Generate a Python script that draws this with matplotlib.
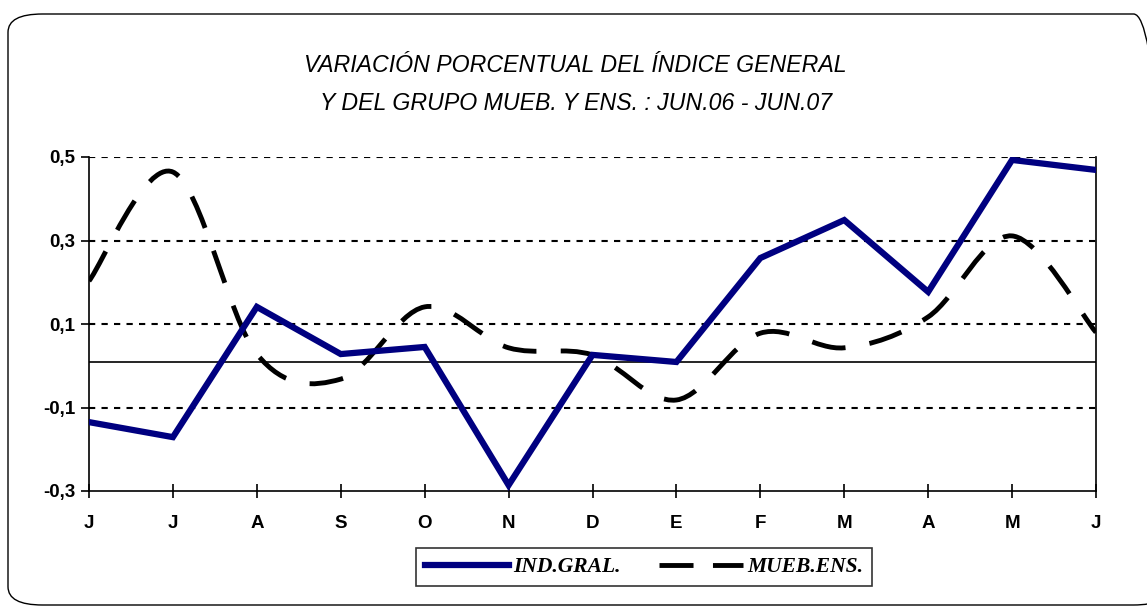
import numpy as np
import matplotlib.pyplot as plt
from matplotlib.path import Path
from matplotlib.patches import PathPatch, FancyBboxPatch
from matplotlib.lines import Line2D

meses = ['J', 'J', 'A', 'S', 'O', 'N', 'D', 'E', 'F', 'M', 'A', 'M', 'J']
ind_gral = [-0.135, -0.171, 0.141, 0.028, 0.045, -0.286, 0.026, 0.009,
            0.258, 0.349, 0.177, 0.493, 0.469]
mueb_ens = [0.203, 0.464, 0.028, -0.032, 0.141, 0.043, 0.026, -0.082,
            0.078, 0.043, 0.117, 0.311, 0.080]
y_ticks = [-0.3, -0.1, 0.1, 0.3, 0.5]


def smooth_path(xs, ys):
    # curva suavizada tipo Excel (Catmull-Rom -> Bezier cubica)
    pts = np.column_stack([xs, ys]).astype(float)
    n = len(pts)
    verts = [pts[0]]
    codes = [Path.MOVETO]
    for i in range(n - 1):
        p0 = pts[max(i - 1, 0)]
        p1 = pts[i]
        p2 = pts[i + 1]
        p3 = pts[min(i + 2, n - 1)]
        c1 = p1 + (p2 - p0) / 6.0
        c2 = p2 - (p3 - p1) / 6.0
        verts += [c1, c2, p2]
        codes += [Path.CURVE4] * 3
    return Path(verts, codes)


fig = plt.figure(figsize=(11.47, 6.09), dpi=100)
fig.patches.append(FancyBboxPatch((8 / 1147, 4 / 609), 1160 / 1147, 591 / 609,
                                  boxstyle='round,pad=0,rounding_size=0.03',
                                  transform=fig.transFigure, fill=False,
                                  edgecolor='black', linewidth=1.0))

ax = fig.add_axes([89 / 1147, 118 / 609, 1007 / 1147, 334 / 609])
x = np.arange(len(meses))

ax.set_xlim(0, len(meses) - 1)
ax.set_ylim(-0.3, 0.5)

for yv in y_ticks[1:]:
    ax.axhline(yv, color='black', lw=1.5, linestyle=(0, (3, 3)), zorder=1)
ax.axhline(0.01, color='black', lw=1.2, zorder=1)

ax.plot(x, ind_gral, color='#000080', lw=4.5, solid_joinstyle='miter',
        zorder=3, label='IND.GRAL.')
patch = PathPatch(smooth_path(x, mueb_ens), fill=False, edgecolor='black',
                  lw=3.5, linestyle=(0, (7, 5)), zorder=2)
ax.add_patch(patch)

ax.set_xticks(x)
ax.set_xticklabels(meses, fontsize=13.5, fontweight='bold', family='Liberation Sans')
ax.set_yticks(y_ticks)
ax.set_yticklabels([f'{v:.1f}'.replace('.', ',') for v in y_ticks],
                   fontsize=13.5, fontweight='bold', family='Liberation Sans')
ax.tick_params(axis='x', direction='inout', length=10, width=1.2, pad=12)
ax.tick_params(axis='y', direction='out', length=6, width=1.2, pad=4)
ax.spines['top'].set_visible(False)
for s in ['left', 'bottom', 'right']:
    ax.spines[s].set_linewidth(1.2)

fig.text(0.502, 1 - 65 / 609, 'VARIACIÓN PORCENTUAL DEL ÍNDICE GENERAL',
         ha='center', va='center', fontsize=16.7, style='italic',
         family='Liberation Sans')
fig.text(0.502, 1 - 103 / 609, 'Y DEL GRUPO MUEB. Y ENS. : JUN.06 - JUN.07',
         ha='center', va='center', fontsize=16.7, style='italic',
         family='Liberation Sans')

handles = [Line2D([], [], color='#000080', lw=4.5),
           Line2D([], [], color='black', lw=3.5, linestyle=(0, (7, 4)))]
leg = fig.legend(handles, ['IND.GRAL.', 'MUEB.ENS.'], loc='center',
                 bbox_to_anchor=(644 / 1147, 1 - 567 / 609), ncol=2,
                 frameon=True, fancybox=False, handlelength=3.9,
                 columnspacing=1.8, handletextpad=0.2, borderpad=0.4,
                 prop={'family': 'Liberation Serif', 'style': 'italic',
                       'weight': 'bold', 'size': 15.5})
leg.get_frame().set_edgecolor('black')
leg.get_frame().set_linewidth(1.2)

fig.savefig('out.png', dpi=100)
